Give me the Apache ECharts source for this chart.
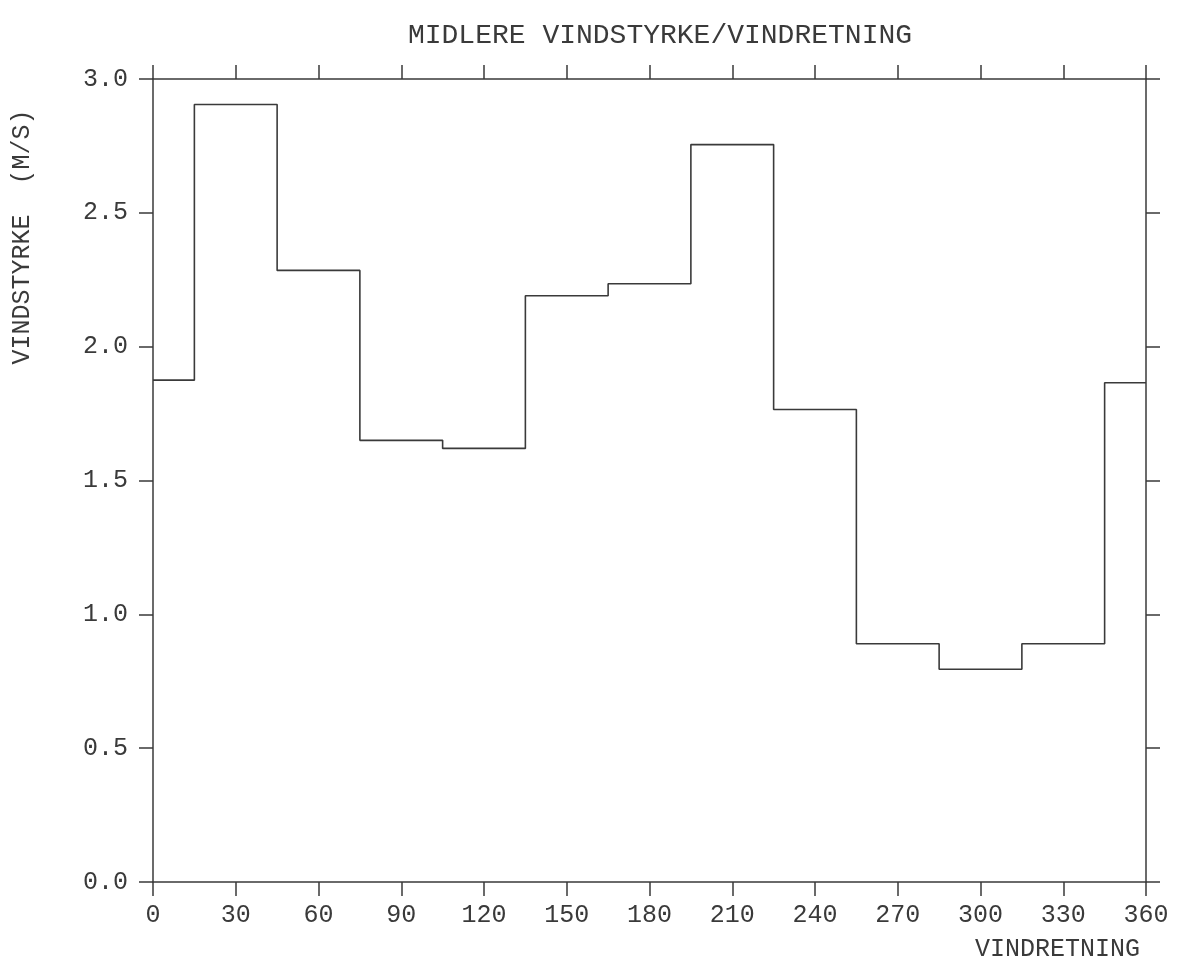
<!DOCTYPE html>
<html>
<head>
<meta charset="utf-8">
<script src="https://cdn.jsdelivr.net/npm/echarts@6/dist/echarts.min.js"></script>
<style>
html,body{margin:0;padding:0;background:#fff;}
#chart{width:1177px;height:964px;}
</style>
</head>
<body>
<div id="chart"></div>
<script>
// Wind direction (degrees) – centre of each 30° sector
const directions = [0, 30, 60, 90, 120, 150, 180, 210, 240, 270, 300, 330, 360];
// Mean wind speed (m/s) per sector
const speeds = [1.875, 2.905, 2.285, 1.65, 1.62, 2.19, 2.235, 2.755, 1.765, 0.89, 0.795, 0.89, 1.865];

const titleText = 'MIDLERE VINDSTYRKE/VINDRETNING';
const xName = 'VINDRETNING';
const yName = 'VINDSTYRKE  (M/S)';

const FONT = 'Liberation Mono';
const INK = '#3a3a3a';

const chart = echarts.init(document.getElementById('chart'), null, {renderer: 'canvas'});

const lineStyle = {color: INK, width: 1.5};
const tickStyle = {color: INK, width: 1.5};

chart.setOption({
  backgroundColor: '#ffffff',
  animation: false,
  title: {
    text: titleText,
    left: 655,
    textAlign: 'center',
    top: 17,
    textStyle: {fontFamily: FONT, fontSize: 28, fontWeight: 'normal', color: INK}
  },
  grid: {left: 153, right: 31, top: 79, bottom: 82, containLabel: false},
  xAxis: [{
    type: 'value',
    position: 'bottom',
    min: 0, max: 360, interval: 30,
    splitLine: {show: false},
    axisLine: {show: true, onZero: false, lineStyle: lineStyle},
    axisTick: {show: true, inside: false, length: 14, lineStyle: tickStyle},
    axisLabel: {margin: 21, fontFamily: FONT, fontSize: 25, color: INK},
    name: xName,
    nameLocation: 'end',
    nameGap: -6,
    nameTextStyle: {fontFamily: FONT, fontSize: 25, color: INK, align: 'right', verticalAlign: 'top', padding: [55, 0, 0, 0]}
  }, {
    type: 'value',
    position: 'top',
    min: 0, max: 360, interval: 30,
    splitLine: {show: false},
    axisLine: {show: true, onZero: false, lineStyle: lineStyle},
    axisTick: {show: true, inside: false, length: 14, lineStyle: tickStyle},
    axisLabel: {show: false}
  }],
  yAxis: [{
    type: 'value',
    position: 'left',
    min: 0, max: 3, interval: 0.5,
    splitLine: {show: false},
    axisLine: {show: true, onZero: false, lineStyle: lineStyle},
    axisTick: {show: true, inside: false, length: 14, lineStyle: tickStyle},
    axisLabel: {margin: 25, fontFamily: FONT, fontSize: 25, color: INK,
      formatter: v => v.toFixed(1)}
  }, {
    type: 'value',
    position: 'right',
    min: 0, max: 3, interval: 0.5,
    splitLine: {show: false},
    axisLine: {show: true, onZero: false, lineStyle: lineStyle},
    axisTick: {show: true, inside: false, length: 14, lineStyle: tickStyle},
    axisLabel: {show: false}
  }],
  graphic: [{
    type: 'text',
    x: 22, y: 237,
    rotation: Math.PI / 2,
    style: {text: yName, fontFamily: FONT, fontSize: 25, fill: INK, textAlign: 'center', textVerticalAlign: 'middle'}
  }],
  series: [{
    type: 'line',
    step: 'middle',
    xAxisIndex: 0,
    yAxisIndex: 0,
    symbol: 'none',
    lineStyle: {color: INK, width: 1.6},
    data: directions.map((d, i) => [d, speeds[i]])
  }]
});
</script>
</body>
</html>
